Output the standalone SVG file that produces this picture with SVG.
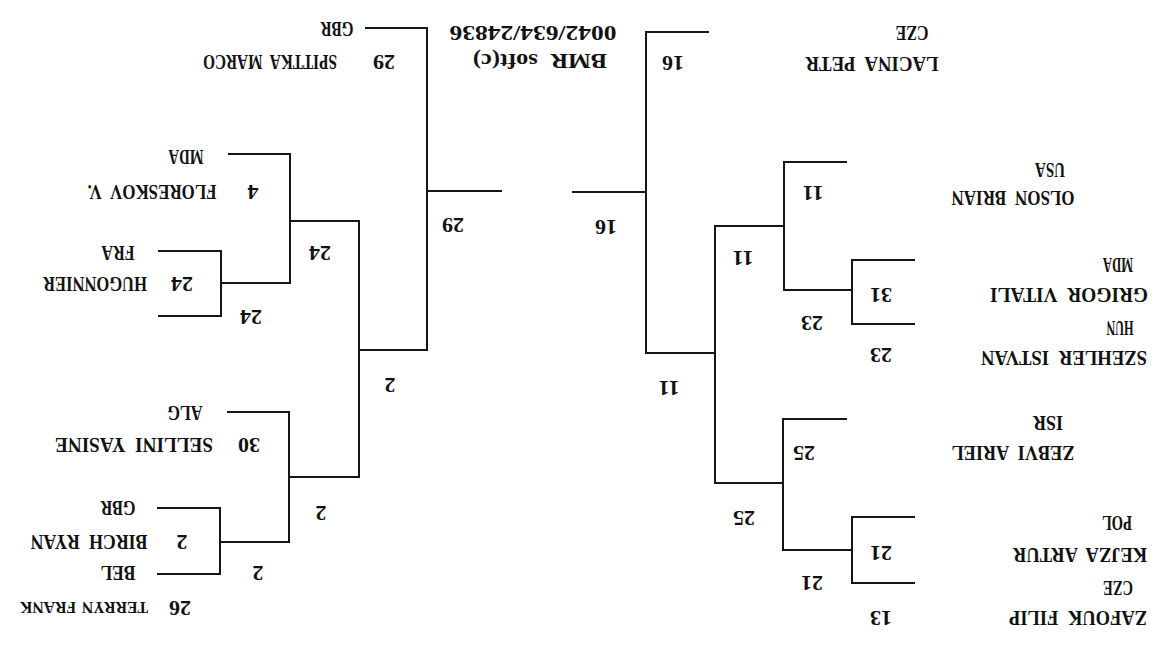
<svg xmlns="http://www.w3.org/2000/svg" width="1160" height="653" viewBox="0 0 1160 653">
<style>
text{font-family:"Liberation Serif","Times New Roman",serif;font-weight:bold;font-size:22px;fill:#111;text-anchor:middle;word-spacing:6px}
.c path{fill:none;stroke:#161616;stroke-width:2}
</style>
<rect width="1160" height="653" fill="#fff"/>
<g class="c" id="connectors">
<path d="M365 28H427V350H359"/>
<path d="M427 191H502"/>
<path d="M228 154H290V283H221"/>
<path d="M290 221H359V477H289"/>
<path d="M158 251H221V316H158"/>
<path d="M227 412H289V542H220"/>
<path d="M157 508H220V574H157"/>
<path d="M709 32H646V353H715"/>
<path d="M572 192H646"/>
<path d="M847 162H784V290H852"/>
<path d="M784 226H715V483H783"/>
<path d="M915 260H852V324H915"/>
<path d="M847 419H783V550H852"/>
<path d="M915 517H852V583H915"/>
</g>
<g id="credit">
<text x="533" y="40" transform="rotate(180 533 33)" textLength="167" lengthAdjust="spacingAndGlyphs">0042/634/24836</text>
<text x="540" y="68" transform="rotate(180 540 61)" textLength="134" lengthAdjust="spacingAndGlyphs">BMR soft(c)</text>
</g>
<g id="p-spittka">
<text x="337" y="36" transform="rotate(180 337 29)" textLength="33" lengthAdjust="spacingAndGlyphs">GBR</text>
<text x="384" y="69" transform="rotate(180 384 62)">29</text>
<text x="270" y="69" transform="rotate(180 270 62)" textLength="134" lengthAdjust="spacingAndGlyphs">SPITTKA MARCO</text>
</g>
<g id="p-floreskov">
<text x="186" y="164" transform="rotate(180 186 157)" textLength="35" lengthAdjust="spacingAndGlyphs">MDA</text>
<text x="253" y="199" transform="rotate(180 253 192)">4</text>
<text x="152" y="199" transform="rotate(180 152 192)" textLength="129" lengthAdjust="spacingAndGlyphs">FLORESKOV V.</text>
</g>
<g id="p-hugonnier">
<text x="118" y="260" transform="rotate(180 118 253)" textLength="33" lengthAdjust="spacingAndGlyphs">FRA</text>
<text x="182" y="291" transform="rotate(180 182 284)">24</text>
<text x="95" y="291" transform="rotate(180 95 284)" textLength="104" lengthAdjust="spacingAndGlyphs">HUGONNIER</text>
</g>
<g id="p-sellini">
<text x="185" y="420" transform="rotate(180 185 413)" textLength="35" lengthAdjust="spacingAndGlyphs">ALG</text>
<text x="249" y="452" transform="rotate(180 249 445)">30</text>
<text x="134" y="452" transform="rotate(180 134 445)" textLength="158" lengthAdjust="spacingAndGlyphs">SELLINI YASINE</text>
</g>
<g id="p-birch">
<text x="118" y="515" transform="rotate(180 118 508)" textLength="35" lengthAdjust="spacingAndGlyphs">GBR</text>
<text x="182" y="549" transform="rotate(180 182 542)">2</text>
<text x="89" y="549" transform="rotate(180 89 542)" textLength="117" lengthAdjust="spacingAndGlyphs">BIRCH RYAN</text>
</g>
<g id="p-terryn">
<text x="118" y="580" transform="rotate(180 118 573)" textLength="35" lengthAdjust="spacingAndGlyphs">BEL</text>
<text x="180" y="615" transform="rotate(180 180 608)">26</text>
<text x="84" y="614" transform="rotate(180 84 608)" style="font-size:17px;word-spacing:2px" textLength="128" lengthAdjust="spacingAndGlyphs">TERRYN FRANK</text>
</g>
<g id="w-left-r1a"><text x="251" y="324" transform="rotate(180 251 317)">24</text></g>
<g id="w-left-r2a"><text x="320" y="260" transform="rotate(180 320 253)">24</text></g>
<g id="w-left-r1b"><text x="258" y="580" transform="rotate(180 258 573)">2</text></g>
<g id="w-left-r2b"><text x="321" y="520" transform="rotate(180 321 513)">2</text></g>
<g id="w-left-r3"><text x="390" y="392" transform="rotate(180 390 385)">2</text></g>
<g id="w-left-final"><text x="453" y="232" transform="rotate(180 453 225)">29</text></g>
<g id="p-lacina">
<text x="912" y="40" transform="rotate(180 912 33)" textLength="33" lengthAdjust="spacingAndGlyphs">CZE</text>
<text x="673" y="70" transform="rotate(180 673 63)">16</text>
<text x="872" y="71" transform="rotate(180 872 64)" textLength="133" lengthAdjust="spacingAndGlyphs">LACINA PETR</text>
</g>
<g id="p-olson">
<text x="1050" y="177" transform="rotate(180 1050 170)" textLength="30" lengthAdjust="spacingAndGlyphs">USA</text>
<text x="813" y="200" transform="rotate(180 813 193)">11</text>
<text x="1013" y="205" transform="rotate(180 1013 198)" textLength="123" lengthAdjust="spacingAndGlyphs">OLSON BRIAN</text>
</g>
<g id="p-grigor">
<text x="1118" y="272" transform="rotate(180 1118 265)" textLength="30" lengthAdjust="spacingAndGlyphs">MDA</text>
<text x="881" y="302" transform="rotate(180 881 295)">31</text>
<text x="1069" y="302" transform="rotate(180 1069 295)" textLength="158" lengthAdjust="spacingAndGlyphs">GRIGOR VITALI</text>
</g>
<g id="p-szehler">
<text x="1120" y="335" transform="rotate(180 1120 328)" textLength="27" lengthAdjust="spacingAndGlyphs">HUN</text>
<text x="881" y="362" transform="rotate(180 881 355)">23</text>
<text x="1064" y="365" transform="rotate(180 1064 358)" textLength="166" lengthAdjust="spacingAndGlyphs">SZEHLER ISTVAN</text>
</g>
<g id="p-zeevi">
<text x="1048" y="430" transform="rotate(180 1048 423)" textLength="30" lengthAdjust="spacingAndGlyphs">ISR</text>
<text x="804" y="460" transform="rotate(180 804 453)">25</text>
<text x="1013" y="460" transform="rotate(180 1013 453)" textLength="123" lengthAdjust="spacingAndGlyphs">ZEBVI ARIEL</text>
</g>
<g id="p-kejza">
<text x="1117" y="530" transform="rotate(180 1117 523)" textLength="30" lengthAdjust="spacingAndGlyphs">POL</text>
<text x="881" y="560" transform="rotate(180 881 553)">21</text>
<text x="1080" y="562" transform="rotate(180 1080 555)" textLength="134" lengthAdjust="spacingAndGlyphs">KEJZA ARTUR</text>
</g>
<g id="p-zafouk">
<text x="1118" y="595" transform="rotate(180 1118 588)" textLength="30" lengthAdjust="spacingAndGlyphs">CZE</text>
<text x="881" y="625" transform="rotate(180 881 618)">13</text>
<text x="1078" y="625" transform="rotate(180 1078 618)" textLength="138" lengthAdjust="spacingAndGlyphs">ZAFOUK FILIP</text>
</g>
<g id="w-right-r1a"><text x="812" y="330" transform="rotate(180 812 323)">23</text></g>
<g id="w-right-r2a"><text x="743" y="265" transform="rotate(180 743 258)">11</text></g>
<g id="w-right-r1b"><text x="812" y="590" transform="rotate(180 812 583)">21</text></g>
<g id="w-right-r2b"><text x="744" y="525" transform="rotate(180 744 518)">25</text></g>
<g id="w-right-r3"><text x="669" y="395" transform="rotate(180 669 388)">11</text></g>
<g id="w-right-final"><text x="606" y="234" transform="rotate(180 606 227)">16</text></g>
</svg>
